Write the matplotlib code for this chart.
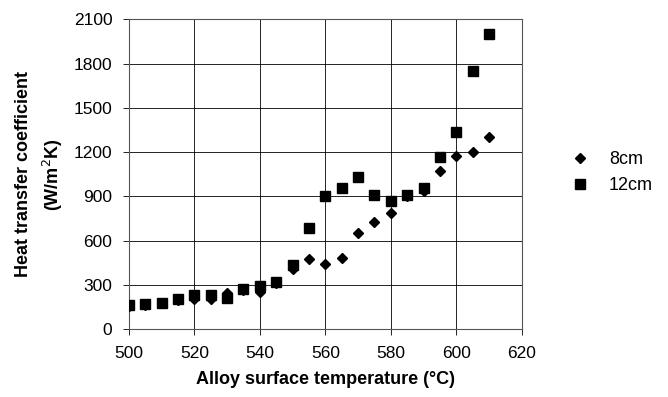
import numpy as np
from matplotlib import pyplot as plt

plt.rcParams['font.family'] = ['Liberation Sans', 'DejaVu Sans']

# surface temperature (C)
temp = [500, 505, 510, 515, 520, 525, 530, 535, 540, 545, 550, 555, 560,
        565, 570, 575, 580, 585, 590, 595, 600, 605, 610]

# heat transfer coefficient (W/m2K)
htc_8cm = [160, 165, 175, 200, 203, 205, 244, 262, 255, 310, 406, 473, 441,
           482, 652, 724, 790, 905, 935, 1073, 1172, 1199, 1301]
htc_12cm = [165, 169, 180, 205, 228, 230, 214, 275, 293, 318, 436, 684, 902,
            959, 1030, 912, 867, 910, 957, 1165, 1335, 1749, 2000]

xticks = np.arange(500, 621, 20)
yticks = np.arange(0, 2101, 300)

fig = plt.figure(figsize=(6.68, 3.97), dpi=100)
ax = fig.add_axes([0.193, 0.171, 0.588, 0.780])

ax.plot(temp, htc_8cm, linestyle='none', marker='D', ms=5.3, color='black',
        label='8cm', zorder=3)
ax.plot(temp, htc_12cm, linestyle='none', marker='s', ms=6.8, color='black',
        label='12cm', zorder=3)

ax.set_xlim(500, 620)
ax.set_ylim(0, 2100)
ax.set_xticks(xticks)
ax.set_yticks(yticks)
ax.grid(True, color='black', linewidth=0.6)
ax.tick_params(direction='out', length=4, width=0.6, labelsize=12.5)
ax.tick_params(axis='x', pad=8)
ax.tick_params(axis='y', pad=8)
for s in ax.spines.values():
    s.set_color('#555555')
    s.set_linewidth(0.8)

ax.set_xlabel('Alloy surface temperature (°C)', fontsize=13, fontweight='bold', labelpad=7)
ax.set_ylabel('Heat transfer coefficient\n(W/m$^2$K)', fontsize=13, fontweight='bold',
              labelpad=6, linespacing=1.5)

ax.legend(loc='center left', bbox_to_anchor=(1.08, 0.505), frameon=False,
          fontsize=13, handletextpad=1.0, labelspacing=0.5, handlelength=1.2)

fig.savefig('out.png', dpi=100)
